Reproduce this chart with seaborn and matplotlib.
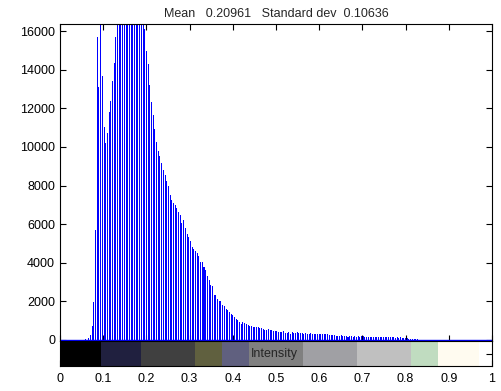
import numpy as np
import pandas as pd
import seaborn as sns
import matplotlib.pyplot as plt

# imhist-style counts, 256 grey levels (tops above 16000 are clipped)
counts = [0] * 15 + [
    30, 20, 80, 260, 730, 1990, 5700, 15700, 13100, 16500,          # 15-24
    13700, 11050, 10200, 10700, 11800, 12400, 13400, 14350, 15700,  # 25-33
    16800, 17400, 17900, 18300, 18600, 18800, 18900, 18900,         # 34-41
    18800, 18600, 18300, 18000, 17600, 17200, 16900, 16500,         # 42-49
    16100, 14970, 14300, 13210, 12330, 11660, 10930, 10260, 9790, 9530,  # 50-59
    9150, 8810, 8550, 8250, 7980, 7510, 7250, 7110, 6990, 6840,     # 60-69
    6650, 6480, 6080, 6220, 5800, 5490, 5350, 5130, 4840, 4700,     # 70-79
    4630, 4490, 4350, 4040, 4040, 3770, 3630, 3320, 3110, 2850,     # 80-89
    2800, 2330, 2330, 2110, 2040, 2040, 1810, 1760, 1610, 1550,     # 90-99
    1430, 1350, 1280, 1210, 1070, 1020, 930, 830, 950, 860,         # 100-109
    830, 790, 740, 725, 670, 650, 670, 670, 620, 620,               # 110-119
    570, 530, 530, 570, 530, 500, 470, 470, 450, 430,               # 120-129
    410, 410, 470, 360, 360, 410, 330, 390, 360, 360,               # 130-139
    410, 360, 360, 360, 310, 360, 310, 310, 360, 330,               # 140-149
    310, 310, 310, 310, 290, 310, 290, 310, 290, 260,               # 150-159
    260, 260, 260, 210, 210, 210, 260, 210, 210, 210,               # 160-169
    170, 210, 210, 170, 210, 170, 210, 170, 210, 210,               # 170-179
    160, 160, 160, 160, 160, 160, 150, 130, 160, 140,               # 180-189
    150, 130, 160, 140, 130, 150, 130, 140, 120, 130,               # 190-199
    120, 130, 100, 100, 90, 100, 50, 50, 60, 40,                    # 200-209
    50, 40,                                                         # 210-211
]
counts = counts + [0] * (256 - len(counts))
levels = np.linspace(0, 1, 256)

# colour strip under the histogram (edges in 32nds of the range)
band_edges = [0, 3, 6, 10, 12, 14, 18, 22, 26, 28, 31]
band_colors = ['#000000', '#20203f', '#404040', '#60603f', '#60607f',
               '#808080', '#a0a0a4', '#c0c0c0', '#c0dcc0', '#fffbf0']

title = 'Mean   0.20961   Standard dev  0.10636'

sns.set_style('ticks')
plt.rcParams['font.family'] = ['Liberation Sans', 'DejaVu Sans']
plt.rcParams['font.size'] = 9

fig = plt.figure(figsize=(5.01, 3.91), dpi=100)
ax = fig.add_axes([60 / 501, 50 / 391, 432 / 501, 317 / 391])
cax = fig.add_axes([60 / 501, 25 / 391, 432 / 501, 25 / 391])

df = pd.DataFrame({'level': levels, 'count': counts})
step = 1 / 255
sns.histplot(data=df, x='level', weights='count',
             bins=256, binrange=(-step / 2, 1 + step / 2),
             shrink=0.6, color='blue', alpha=1, linewidth=0,
             edgecolor='none', ax=ax)
ax.axhline(0, color='blue', lw=1)

ax.set_xlim(0, 1)
ax.set_ylim(-52, 16373)
ax.set_xlabel('')
ax.set_ylabel('')
ax.set_title(title, fontsize=9, pad=5)
ax.set_xticks(np.arange(0, 1.01, 0.1))
ax.set_xticklabels([])
ax.set_yticks(np.arange(0, 16001, 2000))
ax.tick_params(direction='in', length=4, width=0.8, top=True, right=True,
               labelsize=9, colors='black')
for s in ax.spines.values():
    s.set_visible(True)
    s.set_linewidth(0.8)
    s.set_color('black')

lefts = [e / 32 for e in band_edges[:-1]]
widths = [(b - a) / 32 for a, b in zip(band_edges[:-1], band_edges[1:])]
cax.bar(lefts, [1] * len(lefts), width=widths, align='edge',
        color=band_colors, linewidth=0)
cax.set_xlim(0, 1)
cax.set_ylim(0, 1)
cax.set_xticks(np.arange(0, 1.01, 0.1))
cax.set_xticklabels(['0', '0.1', '0.2', '0.3', '0.4', '0.5',
                     '0.6', '0.7', '0.8', '0.9', '1'])
cax.set_yticks([0.5])
cax.set_yticklabels([])
cax.tick_params(direction='in', length=4, width=0.8, right=True,
                labelsize=9, colors='black', pad=5)
for s in cax.spines.values():
    s.set_visible(True)
    s.set_linewidth(0.8)
    s.set_color('black')
cax.text(0.497, 0.5, 'Intensity', ha='center', va='center', fontsize=9)

fig.savefig('out.png', dpi=100)
